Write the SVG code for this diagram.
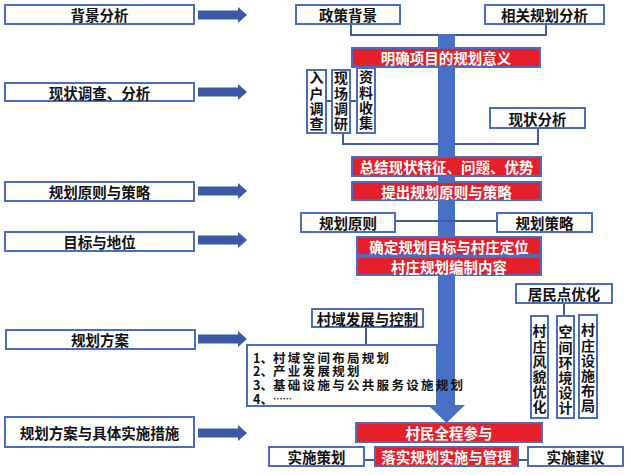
<svg xmlns="http://www.w3.org/2000/svg" width="631" height="475" viewBox="0 0 631 475">
<defs>
<style>
text{font-family:"Noto Sans CJK SC","Noto Sans",sans-serif;font-weight:bold;font-size:14.5px;fill:#111;}
.c{text-anchor:middle;dominant-baseline:central;}
.w{fill:#fff;}
.v{writing-mode:vertical-rl;font-size:14px;letter-spacing:1.2px;}
.box{fill:#fff;stroke:#4a6cc3;stroke-width:2;}
.red{fill:#e5202a;stroke:#4a6cc3;stroke-width:2;}
.ln{fill:none;stroke:#3d5ba8;stroke-width:2;}
.arr{fill:#3b5aa6;}
.list{font-size:12.5px;letter-spacing:2.3px;dominant-baseline:central;}
.num{letter-spacing:0;}
</style>
<path id="ar" d="M198,-4.5 H238 V-8 L247,0 L238,8 V4.5 H198 Z"/>
</defs>
<rect width="631" height="475" fill="#fff"/>

<g id="connectors">
<path class="ln" d="M351,24 V35 H546 V24"/>
<path class="ln" d="M326,101 H332 M350,101 H357"/>
<path class="ln" d="M343,133 V144 H538 V128"/>
<path class="ln" d="M366,327 V345"/>
<path class="ln" d="M564,303 V316"/>
<path class="ln" d="M364,460 H375 M518,460 H528"/>
<g class="arr">
<use href="#ar" transform="translate(0,15)"/>
<use href="#ar" transform="translate(0,92)"/>
<use href="#ar" transform="translate(0,191)"/>
<use href="#ar" transform="translate(0,240)"/>
<use href="#ar" transform="translate(0,339)"/>
<use href="#ar" transform="translate(0,433)"/>
</g>
</g>

<g id="main-arrow">
<rect x="438" y="34" width="17" height="372" fill="#4870c6"/>
<polygon points="428,405 465,405 446.5,423" fill="#4870c6"/>
<path class="ln" d="M395,221 H497"/>
</g>

<g id="n-bg"><rect class="box" x="5" y="5" width="189" height="19"/><text class="c" x="99.5" y="14.5">背景分析</text></g>
<g id="n-xz"><rect class="box" x="5" y="83" width="189" height="18"/><text class="c" x="99.5" y="92">现状调查、分析</text></g>
<g id="n-yz"><rect class="box" x="5" y="182" width="189" height="19"/><text class="c" x="99.5" y="191.5">规划原则与策略</text></g>
<g id="n-mb"><rect class="box" x="5" y="232" width="189" height="19"/><text class="c" x="99.5" y="241.5">目标与地位</text></g>
<g id="n-fa"><rect class="box" x="6" y="330" width="189" height="19"/><text class="c" x="100" y="339.5">规划方案</text></g>
<g id="n-ss"><rect class="box" x="5" y="417" width="189" height="30"/><text class="c" x="99.5" y="432">规划方案与具体实施措施</text></g>

<g id="n-zc"><rect class="box" x="296" y="5" width="104" height="19"/><text class="c" x="348" y="14.5">政策背景</text></g>
<g id="n-xg"><rect class="box" x="485" y="5" width="119" height="19"/><text class="c" x="544.5" y="14.5">相关规划分析</text></g>
<g id="n-mq"><rect class="red" x="352" y="48" width="188" height="19"/><text class="c w" x="446" y="57.5">明确项目的规划意义</text></g>
<g id="n-rh"><rect class="box" x="307" y="70" width="19" height="63"/><text class="v" x="316.5" y="71">入户调查</text></g>
<g id="n-xc"><rect class="box" x="332" y="70" width="18" height="63"/><text class="v" x="341" y="71">现场调研</text></g>
<g id="n-zl"><rect class="box" x="357" y="68" width="18" height="65"/><text class="v" x="366" y="70">资料收集</text></g>
<g id="n-xzfx"><rect class="box" x="490" y="108" width="95" height="20"/><text class="c" x="537.5" y="118">现状分析</text></g>
<g id="n-zj"><rect class="red" x="352" y="157" width="189" height="19"/><text class="c w" x="446.5" y="166.5">总结现状特征、问题、优势</text></g>
<g id="n-tc"><rect class="red" x="352" y="182" width="189" height="18"/><text class="c w" x="446.5" y="191">提出规划原则与策略</text></g>
<g id="n-yzr"><rect class="box" x="301" y="213" width="94" height="19"/><text class="c" x="348" y="222.5">规划原则</text></g>
<g id="n-cl"><rect class="box" x="497" y="213" width="95" height="19"/><text class="c" x="544.5" y="222.5">规划策略</text></g>
<g id="n-qd"><rect class="red" x="357" y="237" width="184" height="18"/><text class="c w" x="449" y="246">确定规划目标与村庄定位</text></g>
<g id="n-bz"><rect class="red" x="357" y="257" width="184" height="18"/><text class="c w" x="449" y="266">村庄规划编制内容</text></g>
<g id="n-jm"><rect class="box" x="516" y="284" width="96" height="19"/><text class="c" x="564" y="293.5">居民点优化</text></g>
<g id="n-fm"><rect class="box" x="531" y="316" width="17" height="102"/><text class="v" x="539.5" y="324">村庄风貌优化</text></g>
<g id="n-kj"><rect class="box" x="557" y="316" width="17" height="102"/><text class="v" x="565.5" y="325">空间环境设计</text></g>
<g id="n-ss2"><rect class="box" x="579" y="315" width="18" height="103"/><text class="v" x="588" y="323">村庄设施布局</text></g>
<g id="n-cy"><rect class="box" x="312" y="309" width="111" height="18"/><text class="c" x="367.5" y="318">村域发展与控制</text></g>
<g id="n-list"><rect class="box" x="247" y="345" width="190" height="61"/>
<text class="list"><tspan class="num" x="253" y="357">1、</tspan><tspan x="273">村域空间布局规划</tspan><tspan class="num" x="253" y="370">2、</tspan><tspan x="273">产业发展规划</tspan><tspan class="num" x="253" y="383.5">3、</tspan><tspan x="273">基础设施与公共服务设施规划</tspan><tspan class="num" x="253" y="397.5">4、</tspan><tspan font-size="9.5" letter-spacing="0">……</tspan></text>
</g>
<g id="n-cm"><rect class="red" x="356" y="423" width="186" height="19"/><text class="c w" x="449" y="432.5">村民全程参与</text></g>
<g id="n-sc"><rect class="box" x="269" y="447" width="95" height="19"/><text class="c" x="316.5" y="456.5">实施策划</text></g>
<g id="n-ls"><rect class="red" x="375" y="447" width="143" height="19"/><text class="c w" x="446.5" y="456.5">落实规划实施与管理</text></g>
<g id="n-jy"><rect class="box" x="528" y="447" width="95" height="19"/><text class="c" x="575.5" y="456.5">实施建议</text></g>
</svg>
